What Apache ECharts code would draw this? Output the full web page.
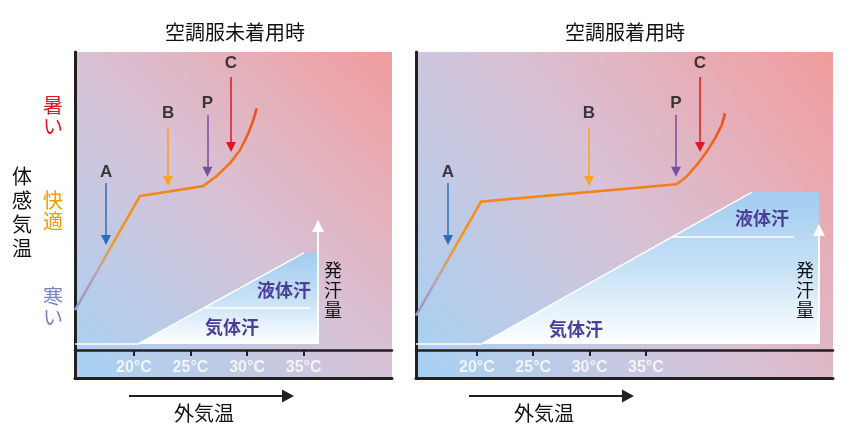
<!DOCTYPE html>
<html><head><meta charset="utf-8">
<script src="https://cdn.jsdelivr.net/npm/echarts@6/dist/echarts.min.js"></script>
<style>html,body{margin:0;padding:0;background:#fff}#c{width:850px;height:430px}</style>
</head><body><div id="c"></div>
<script>
// ---- data ----
const tickTemps = [20, 25, 30, 35];
const panelTitles = ['空調服未着用時', '空調服着用時'];
// perceived temperature curve [outside temp, sensation]
const curveOff = [[14.8,13.4],[20.54,51.7],[26.11,55.0],[27.32,58.4],[28.50,62.7],[29.38,67.1],[30.11,72.7],[30.55,77.2],[30.85,81.1]];
const curveOn  = [[14.6,11.5],[20.37,49.8],[37.73,55.6],[38.62,58.2],[39.51,62.1],[40.39,66.5],[41.13,71.0],[41.73,75.5],[42.02,79.4]];
// marker arrows A, B, P, C
const arrowNames = ['A', 'B', 'P', 'C'];
const arrowXOff = [17.54, 23.02, 26.50, 28.58];
const arrowXOn  = [17.44, 29.95, 37.67, 39.80];
const arrowTopVal = [56.0, 74.8, 78.9, 91.6];
const arrowEndVal = [36.9, 56.7, 59.8, 68.1];
const arrowLabelVal = [59.7, 79.5, 82.9, 96.3];
// sweat amount area
const sweatOff = [[14.8,2],[20.37,2],[35.03,32.6],[36.27,32.6],[36.27,2]];
const sweatOn  = [[14.6,2],[20.37,2],[44.41,53.0],[50.35,53.0],[50.35,2]];
const dividerOff = [[26.28,14.1],[35.56,14.1]];
const dividerOn  = [[37.3,37.9],[48.14,37.9]];
const sweatArrowOff = [[36.27,2],[36.27,41.6]];
const sweatArrowOn  = [[50.35,2],[50.35,40.3]];
const tickLabelVal = -5.9;

// ---- styles ----
const arrowColors = ['#2f6db5', '#f5a623', '#7a4e9f', '#e6141c'];
const JP = '"Noto Sans CJK JP", sans-serif';
const LAT = '"Liberation Sans", Arial, sans-serif';
const G = echarts.graphic.LinearGradient;

const chart = echarts.init(document.getElementById('c'));

function bg() {
  return new G(0, 1, 1, 0, [
    {offset: 0, color: '#a6d2f4'},
    {offset: 0.5, color: '#d8c2d6'},
    {offset: 1, color: '#f29c9c'}
  ]);
}
function curveGrad() {
  return new G(0, 0, 0, 1, [
    {offset: 0, color: '#ec4a1a'},
    {offset: 0.3, color: '#f0761c'},
    {offset: 0.45, color: '#f28c1e'},
    {offset: 0.66, color: '#f39a22'},
    {offset: 0.8, color: '#c4a0ae'},
    {offset: 1, color: '#8898cc'}
  ]);
}
function sweatGrad() {
  return new G(0, 0, 0, 1, [
    {offset: 0, color: '#a2ccf0'},
    {offset: 0.5, color: '#c6e1f6'},
    {offset: 0.85, color: '#eef6fd'},
    {offset: 1, color: '#ffffff'}
  ]);
}

const xRanges = [[14.8, 42.8], [14.6, 51.6]];
const grids = [
  {left: 75, top: 52, width: 317, height: 326, show: true, backgroundColor: bg(), borderWidth: 0},
  {left: 416, top: 52, width: 417, height: 326, show: true, backgroundColor: bg(), borderWidth: 0}
];
const xAxes = [], yAxes = [], series = [];
[0, 1].forEach(p => {
  xAxes.push({
    type: 'value', gridIndex: p, position: 'bottom', min: xRanges[p][0], max: xRanges[p][1],
    axisLine: {show: true, onZero: true, lineStyle: {color: '#231f20', width: 2.5}},
    axisTick: {show: true, customValues: tickTemps, length: 6, lineStyle: {color: '#231f20', width: 2}},
    axisLabel: {show: false},
    splitLine: {show: false}
  });
  xAxes.push({
    type: 'value', gridIndex: p, position: 'bottom', min: xRanges[p][0], max: xRanges[p][1],
    axisLine: {show: true, onZero: false, lineStyle: {color: '#231f20', width: 3}},
    axisTick: {show: false}, axisLabel: {show: false}, splitLine: {show: false}
  });
  yAxes.push({
    type: 'value', gridIndex: p, min: -9.4, max: 100,
    axisLine: {show: true, onZero: false, lineStyle: {color: '#231f20', width: 3}},
    axisTick: {show: false}, axisLabel: {show: false}, splitLine: {show: false}
  });
  const xi = p * 2, yi = p;
  const sweat = p === 0 ? sweatOff : sweatOn;
  const curve = p === 0 ? curveOff : curveOn;
  const ax = p === 0 ? arrowXOff : arrowXOn;
  series.push({
    type: 'line', xAxisIndex: xi, yAxisIndex: yi, data: sweat, symbol: 'none', silent: true,
    lineStyle: {width: 0}, areaStyle: {origin: 2, color: sweatGrad(), opacity: 1}, z: 1
  });
  series.push({
    type: 'line', xAxisIndex: xi, yAxisIndex: yi, data: sweat.slice(0, 3), symbol: 'none',
    lineStyle: {color: '#ffffff', width: 1.5}, z: 2
  });
  series.push({
    type: 'line', xAxisIndex: xi, yAxisIndex: yi, data: p === 0 ? dividerOff : dividerOn, symbol: 'none',
    lineStyle: {color: '#ffffff', width: 1.5}, z: 2
  });
  series.push({
    type: 'lines', coordinateSystem: 'cartesian2d', xAxisIndex: xi, yAxisIndex: yi,
    symbol: ['none', 'triangle'], symbolSize: 12,
    lineStyle: {color: '#ffffff', width: 2, opacity: 1},
    data: [{coords: p === 0 ? sweatArrowOff : sweatArrowOn}], z: 3
  });
  series.push({
    type: 'line', xAxisIndex: xi, yAxisIndex: yi, data: curve, symbol: 'none',
    lineStyle: {color: curveGrad(), width: 2.6}, z: 4
  });
  series.push({
    type: 'lines', coordinateSystem: 'cartesian2d', xAxisIndex: xi, yAxisIndex: yi,
    symbol: ['none', 'triangle'], symbolSize: 10,
    lineStyle: {width: 1.5, opacity: 1},
    data: arrowNames.map((n, i) => ({
      coords: [[ax[i], arrowTopVal[i]], [ax[i], arrowEndVal[i]]],
      lineStyle: {color: arrowColors[i], width: 1.5, opacity: 1}
    })), z: 5
  });
  series.push({
    type: 'scatter', xAxisIndex: xi, yAxisIndex: yi, symbolSize: 1,
    itemStyle: {color: 'rgba(0,0,0,0)'},
    data: arrowNames.map((n, i) => [ax[i], arrowLabelVal[i], n]),
    label: {show: true, position: 'inside', formatter: q => q.data[2], color: '#111111',
      fontSize: 17, fontWeight: 'bold', fontFamily: LAT}, z: 6
  });
  // tick labels of the outside-temperature axis
  series.push({
    type: 'scatter', xAxisIndex: xi, yAxisIndex: yi, symbolSize: 1, silent: true,
    itemStyle: {color: 'rgba(0,0,0,0)'},
    data: tickTemps.map(t => [t, tickLabelVal]),
    label: {show: true, position: 'inside', formatter: q => q.data[0] + '°C', color: '#ffffff',
      fontSize: 16, fontWeight: 'bold', fontFamily: LAT}, z: 6
  });
});

function txt(x, y, text, font, color) {
  return {type: 'text', x: x, y: y, z: 100,
    style: {text: text, fill: color, font: font, align: 'center', verticalAlign: 'middle'}};
}
function vtxt(x, y, text, font, color, lh) {
  return {type: 'text', x: x, y: y, z: 100,
    style: {text: text.split('').join('\n'), fill: color, font: font,
      lineHeight: lh, align: 'center', verticalAlign: 'middle'}};
}
function hArrow(x1, x2, y) {
  return [
    {type: 'line', z: 100, shape: {x1: x1, y1: y, x2: x2 - 11, y2: y}, style: {stroke: '#231f20', lineWidth: 2}},
    {type: 'polygon', z: 100, shape: {points: [[x2 - 12, y - 6.5], [x2, y], [x2 - 12, y + 6.5]]}, style: {fill: '#231f20'}}
  ];
}
const F20 = '20px ' + JP, F18 = '18px ' + JP, B18 = 'bold 18px ' + JP;
const graphics = [
  txt(235, 32, panelTitles[0], F20, '#111'),
  txt(625, 32, panelTitles[1], F20, '#111'),
  txt(204, 413, '外気温', F20, '#111'),
  txt(544, 413, '外気温', F20, '#111'),
  ...hArrow(129, 294, 396),
  ...hArrow(469, 634, 396),
  vtxt(22, 212, '体感気温', F20, '#111', 24),
  vtxt(53, 116, '暑い', F20, '#e6141c', 21),
  vtxt(53, 211, '快適', F20, '#f39a00', 21),
  vtxt(53, 307, '寒い', F20, '#7a84c4', 21),
  vtxt(333, 290, '発汗量', F18, '#111', 20),
  vtxt(805, 290, '発汗量', F18, '#111', 20),
  txt(284, 290, '液体汗', B18, '#4b3f98'),
  txt(232, 327, '気体汗', B18, '#4b3f98'),
  txt(762, 218, '液体汗', B18, '#4b3f98'),
  txt(576, 329, '気体汗', B18, '#4b3f98')
];

chart.setOption({
  animation: false,
  grid: grids,
  xAxis: xAxes,
  yAxis: yAxes,
  series: series,
  graphic: {elements: graphics}
});
</script>
</body></html>
